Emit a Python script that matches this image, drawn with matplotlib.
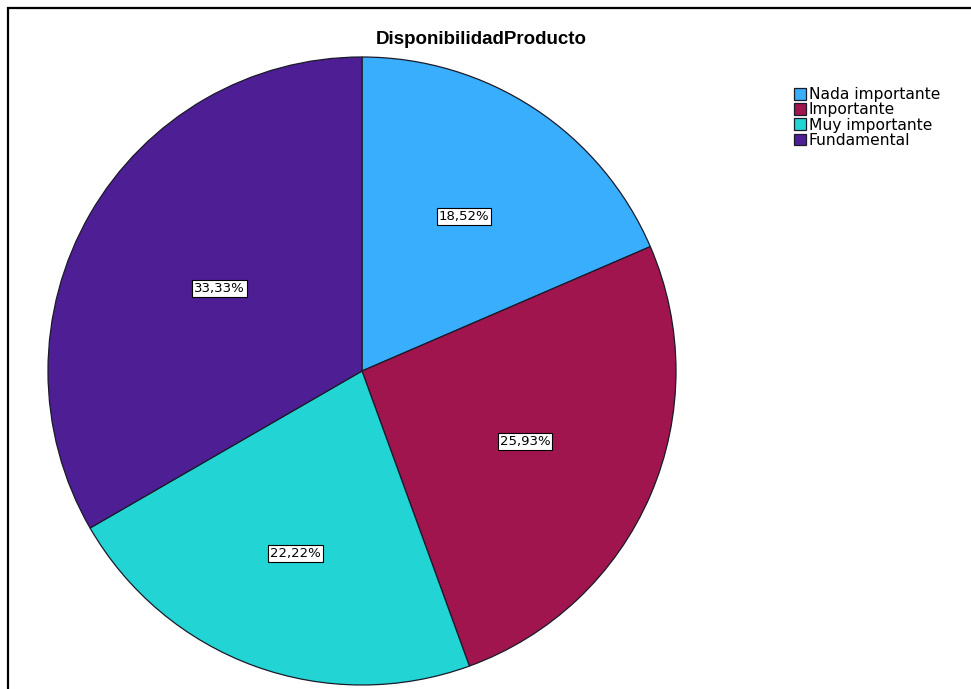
import matplotlib.pyplot as plt
from matplotlib.patches import Rectangle

plt.rcParams['font.family'] = ['Liberation Sans', 'DejaVu Sans']

# datos
categorias = ["Nada importante", "Importante", "Muy importante", "Fundamental"]
frecuencias = [5, 7, 6, 9]
colores = ["#38aefc", "#a0154d", "#23d4d4", "#4e1e94"]
titulo = "DisponibilidadProducto"

W, H = 971, 689
fig = plt.figure(figsize=(W / 100, H / 100), dpi=100)

# marco
fig.patches.append(Rectangle((8 / W, -0.1), 1.2, 1 - 8 / H + 0.1, transform=fig.transFigure,
                             fill=False, edgecolor="black", linewidth=1.6))

# pie: centro (362, 371), radio 314 px
cx, cy, r = 362, 371, 314
half = 330
ax = fig.add_axes([(cx - half) / W, (H - cy - half) / H, 2 * half / W, 2 * half / H])


def fmt(p):
    return ("%.2f%%" % p).replace(".", ",")


wedges, texts, autotexts = ax.pie(
    frecuencias, colors=colores, startangle=90, counterclock=False,
    autopct=fmt, pctdistance=0.59,
    wedgeprops=dict(edgecolor="#1a1a2a", linewidth=0.9),
    textprops=dict(fontsize=9.5, color="black", family="DejaVu Sans"))

# posiciones de etiquetas algo distintas por sector (como en el original)
dist = [0.59, 0.565, 0.62, 0.525]
for t, d in zip(autotexts, dist):
    x, y = t.get_position()
    k = d / 0.59
    t.set_position((x * k, y * k))
    t.set_bbox(dict(facecolor="white", edgecolor="black", boxstyle="square,pad=0.15", linewidth=0.8))

lim = half / r
ax.set_xlim(-lim, lim)
ax.set_ylim(-lim, lim)
ax.set_aspect("equal")
ax.axis("off")

fig.text(481 / W, 1 - 40 / H, titulo, ha="center", va="center", fontsize=13.5, fontweight="bold")

fig.legend(wedges, categorias, loc="upper left", bbox_to_anchor=(794 / W, 1 - 87 / H),
           frameon=False, prop=dict(family="DejaVu Sans", size=11.2), handlelength=0.8,
           handleheight=0.8, handletextpad=0.15, labelspacing=0.02, borderpad=0,
           borderaxespad=0)

fig.savefig("out.png", dpi=100)
